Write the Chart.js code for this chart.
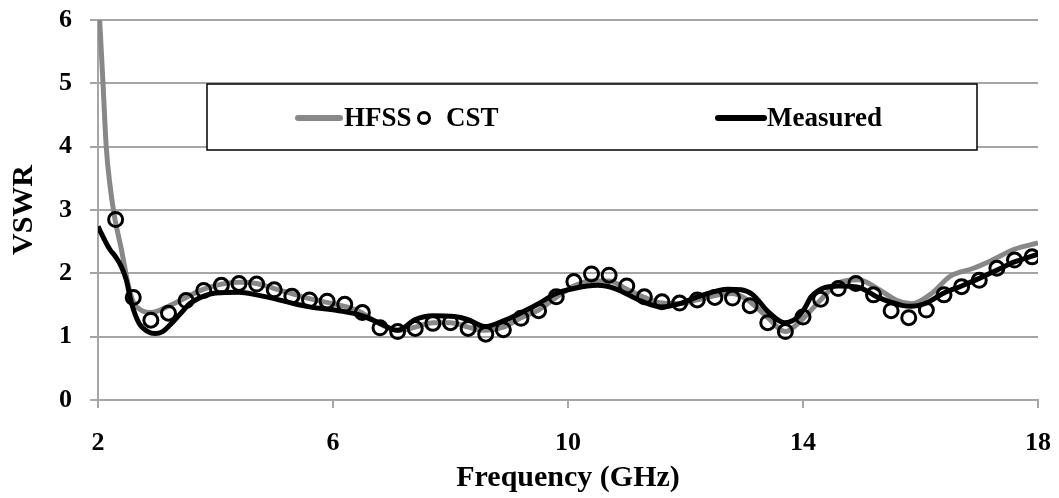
<!DOCTYPE html>
<html>
<head>
<meta charset="utf-8">
<script src="https://cdn.jsdelivr.net/npm/chart.js@4.4.1/dist/chart.umd.min.js"></script>
<style>
  html, body { margin: 0; padding: 0; background: #fff; }
</style>
</head>
<body>
<canvas id="myChart" width="1059" height="498"></canvas>
<script>
// HFSS simulation
var hfssFreq = [2.0, 2.085, 2.14, 2.2, 2.28, 2.4, 2.51, 2.6, 2.75, 2.9, 3.2, 3.5, 3.8, 4.1, 4.4, 4.7, 5.0, 5.3, 5.6, 6.0,
  6.4, 6.8, 7.1, 7.4, 7.7, 8.0, 8.3, 8.6, 8.9, 9.2, 9.5, 9.8, 10.1, 10.4, 10.7, 11.0, 11.3, 11.6, 11.9, 12.2,
  12.5, 12.8, 13.1, 13.4, 13.7, 13.95, 14.3, 14.6, 14.95, 15.3, 15.6, 15.85, 16.2, 16.5, 16.9, 17.2, 17.6, 18.0];
var hfssVswr = [6.5, 5.0, 4.0, 3.42, 2.9, 2.37, 1.84, 1.55, 1.41, 1.38, 1.48, 1.62, 1.75, 1.83, 1.86, 1.84, 1.76, 1.68, 1.6, 1.52,
  1.42, 1.2, 1.1, 1.15, 1.22, 1.22, 1.15, 1.1, 1.15, 1.3, 1.42, 1.62, 1.8, 1.88, 1.88, 1.75, 1.62, 1.53, 1.52, 1.58,
  1.65, 1.68, 1.55, 1.3, 1.08, 1.24, 1.58, 1.85, 1.9, 1.74, 1.57, 1.52, 1.69, 1.95, 2.08, 2.2, 2.38, 2.48];

// CST simulation (markers only)
var cstFreq = [2.3, 2.6, 2.9, 3.2, 3.5, 3.8, 4.1, 4.4, 4.7, 5.0, 5.3, 5.6, 5.9, 6.2, 6.5, 6.8, 7.1, 7.4, 7.7, 8.0,
  8.3, 8.6, 8.9, 9.2, 9.5, 9.8, 10.1, 10.4, 10.7, 11.0, 11.3, 11.6, 11.9, 12.2, 12.5, 12.8, 13.1, 13.4, 13.7, 14.0,
  14.3, 14.6, 14.9, 15.2, 15.5, 15.8, 16.1, 16.4, 16.7, 17.0, 17.3, 17.6, 17.9];
var cstVswr = [2.85, 1.62, 1.26, 1.37, 1.57, 1.73, 1.81, 1.84, 1.83, 1.74, 1.64, 1.58, 1.56, 1.51, 1.38, 1.14, 1.08, 1.13, 1.21, 1.22,
  1.13, 1.04, 1.11, 1.29, 1.41, 1.63, 1.87, 1.99, 1.97, 1.80, 1.63, 1.55, 1.53, 1.58, 1.62, 1.61, 1.49, 1.22, 1.08, 1.31,
  1.59, 1.76, 1.84, 1.66, 1.41, 1.30, 1.42, 1.66, 1.79, 1.89, 2.08, 2.21, 2.26];

// Measured
var measFreq = [2.0, 2.1, 2.2, 2.3, 2.4, 2.48, 2.57, 2.7, 2.85, 2.97, 3.1, 3.22, 3.4, 3.56, 3.8, 4.0, 4.4, 4.7, 5.0, 5.3,
  5.6, 6.1, 6.5, 6.8, 7.1, 7.4, 7.7, 8.07, 8.3, 8.58, 8.9, 9.25, 9.5, 9.77, 10.1, 10.5, 10.8, 11.25, 11.6, 11.93,
  12.27, 12.72, 12.95, 13.15, 13.4, 13.69, 13.9, 14.03, 14.14, 14.6, 14.94, 15.28, 15.7, 15.85, 16.07, 16.4, 16.7, 17.0, 17.34, 17.6,
  17.9, 18.0];
var measVswr = [2.74, 2.55, 2.38, 2.26, 2.1, 1.9, 1.53, 1.21, 1.08, 1.05, 1.08, 1.18, 1.36, 1.52, 1.64, 1.69, 1.70, 1.66, 1.60, 1.53,
  1.47, 1.41, 1.33, 1.21, 1.10, 1.27, 1.33, 1.32, 1.27, 1.16, 1.25, 1.40, 1.52, 1.67, 1.76, 1.81, 1.76, 1.56, 1.47, 1.53,
  1.65, 1.75, 1.74, 1.66, 1.40, 1.22, 1.30, 1.45, 1.63, 1.80, 1.78, 1.62, 1.49, 1.48, 1.52, 1.69, 1.80, 1.92, 2.07, 2.18,
  2.27, 2.30];

var xTicks = [2, 6, 10, 14, 18];
var yTicks = [0, 1, 2, 3, 4, 5, 6];

function toPoints(xs, ys) {
  var pts = [];
  for (var i = 0; i < xs.length; i++) pts.push({ x: xs[i], y: ys[i] });
  return pts;
}

var serif = "'Liberation Serif', 'Times New Roman', serif";
var gridGray = "#a6a6a6";

// legend sits inside the plot, boxed like the spreadsheet one
var boxedLegend = {
  id: "boxedLegend",
  afterDraw: function(chart) {
    var ctx = chart.ctx;
    var ds = chart.data.datasets;
    ctx.save();
    ctx.fillStyle = "#fff";
    ctx.fillRect(207, 84, 770, 66);
    ctx.strokeStyle = "#000";
    ctx.lineWidth = 1.5;
    ctx.strokeRect(207, 84, 770, 66);

    ctx.font = "bold 27px " + serif;
    ctx.textBaseline = "middle";
    ctx.fillStyle = "#000";
    ctx.lineCap = "round";
    var cy = 118;

    // HFSS
    ctx.strokeStyle = ds[0].borderColor;
    ctx.lineWidth = 6;
    ctx.beginPath(); ctx.moveTo(298, cy); ctx.lineTo(340, cy); ctx.stroke();
    ctx.fillText(ds[0].label, 344, cy + 1);

    // CST
    ctx.strokeStyle = ds[1].borderColor;
    ctx.lineWidth = 3;
    ctx.beginPath(); ctx.arc(424, cy, 5.5, 0, Math.PI * 2); ctx.stroke();
    ctx.fillText(ds[1].label, 446, cy + 1);

    // Measured
    ctx.strokeStyle = ds[2].borderColor;
    ctx.lineWidth = 6;
    ctx.beginPath(); ctx.moveTo(718, cy); ctx.lineTo(764, cy); ctx.stroke();
    ctx.fillText(ds[2].label, 767, cy + 1);
    ctx.restore();
  }
};

var ctx = document.getElementById("myChart").getContext("2d");
var chart = new Chart(ctx, {
  type: "line",
  data: {
    datasets: [
      {
        label: "HFSS",
        data: toPoints(hfssFreq, hfssVswr),
        borderColor: "#888888",
        borderWidth: 5,
        pointRadius: 0,
        cubicInterpolationMode: "monotone",
        order: 3
      },
      {
        label: "CST",
        data: toPoints(cstFreq, cstVswr),
        showLine: false,
        borderColor: "#000",
        backgroundColor: "rgba(0,0,0,0)",
        pointRadius: 7,
        pointBorderWidth: 3,
        pointBorderColor: "#000",
        pointBackgroundColor: "rgba(0,0,0,0)",
        order: 1
      },
      {
        label: "Measured",
        data: toPoints(measFreq, measVswr),
        borderColor: "#000",
        borderWidth: 5,
        pointRadius: 0,
        cubicInterpolationMode: "monotone",
        order: 2
      }
    ]
  },
  options: {
    responsive: false,
    animation: false,
    layout: { padding: { top: 20, right: 21, left: 0, bottom: 0 } },
    plugins: {
      legend: { display: false },
      tooltip: { enabled: false }
    },
    scales: {
      x: {
        type: "linear",
        min: xTicks[0],
        max: xTicks[xTicks.length - 1],
        afterBuildTicks: function(s) { s.ticks = xTicks.map(function(v) { return { value: v }; }); },
        // fixed height, and no extra room for the end labels
        afterFit: function(s) { s.height = 98; s.paddingLeft = 0; s.paddingRight = 0; },
        grid: { drawOnChartArea: false, color: gridGray, lineWidth: 2, tickLength: 8 },
        border: { color: gridGray, width: 2 },
        ticks: { color: "#000", padding: 20, font: { family: serif, size: 26, weight: "bold" } },
        title: {
          display: true,
          text: "Frequency (GHz)",
          color: "#000",
          padding: { top: 0, bottom: 2 },
          font: { family: serif, size: 30, weight: "bold" }
        }
      },
      y: {
        min: yTicks[0],
        max: yTicks[yTicks.length - 1],
        afterBuildTicks: function(s) { s.ticks = yTicks.map(function(v) { return { value: v }; }); },
        afterFit: function(s) { s.width = 98; s.paddingTop = 0; s.paddingBottom = 0; },
        grid: { color: gridGray, lineWidth: 2, tickLength: 8 },
        border: { color: gridGray, width: 2 },
        ticks: { color: "#000", padding: 18, font: { family: serif, size: 26, weight: "bold" } },
        title: {
          display: true,
          text: "VSWR",
          color: "#000",
          padding: { top: 6, bottom: 0 },
          font: { family: serif, size: 30, weight: "bold" }
        }
      }
    }
  },
  plugins: [boxedLegend]
});
</script>
</body>
</html>
